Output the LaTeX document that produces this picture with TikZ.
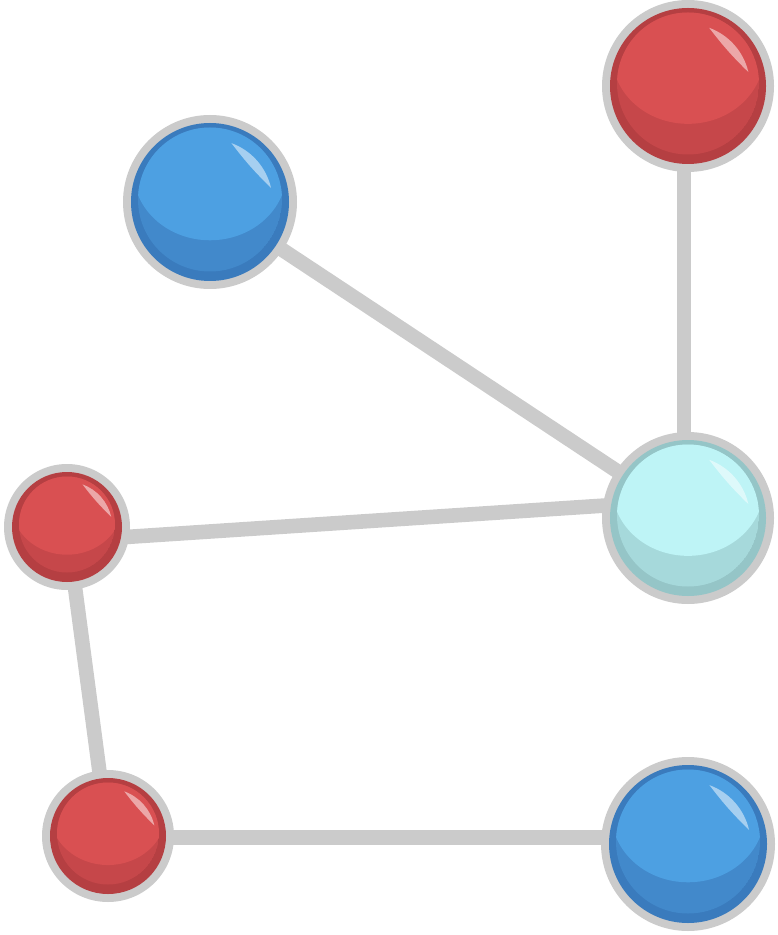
\documentclass[tikz,border=0pt]{standalone}
\usepackage{tikz}

\definecolor{ringgray}{HTML}{CBCBCB}
\definecolor{blueL}{HTML}{4DA0E2}
\definecolor{blueM}{HTML}{4289CB}
\definecolor{blueD}{HTML}{3A7BBD}
\definecolor{redL}{HTML}{D95052}
\definecolor{redM}{HTML}{C6474A}
\definecolor{redD}{HTML}{B53F42}
\definecolor{cyanL}{HTML}{BEF4F6}
\definecolor{cyanM}{HTML}{A6D9DB}
\definecolor{cyanD}{HTML}{95C5C7}

% #1 node name, #2 radius, #3 colour prefix
\newcommand{\drawatom}[3]{%
\begin{scope}[shift={(#1)}]
  \fill[ringgray] (0,0) circle[radius=#2];
  \fill[#3D] (0,0) circle[radius=#2-8];
  \begin{scope}
    \clip (0,-2.5) circle[radius=#2-15];
    \fill[#3M] (0,-2.5) circle[radius=#2-15];
    \fill[#3L] (0,-0.35*#2) ellipse[x radius=0.88*#2, y radius=0.79*#2];
  \end{scope}
  \fill[white,opacity=.5] (-70:0.72*#2) arc[start angle=-70, end angle=-13, radius=0.72*#2]
    to[bend left=4] cycle;
\end{scope}}

\begin{document}
\begin{tikzpicture}[x=0.02cm,y=-0.02cm,
  bond/.style={line width=8.3pt, draw=ringgray}]
\useasboundingbox (0,0) rectangle (777,935);

\coordinate (blueA) at (210,202);
\coordinate (redB)  at (688,86);
\coordinate (cyan)  at (688,518);
\coordinate (redL)  at (67,527);
\coordinate (redC)  at (108,836);
\coordinate (blueD) at (688,844);

\path[bond]
(blueA) edge (cyan)
([xshift=-2.3pt]redB) edge ([xshift=-2.3pt]cyan)
([yshift=-7.9pt]redL) edge ([yshift=10.2pt]cyan)
(redL) edge (redC)
([yshift=-0.8pt]redC) edge ([yshift=-0.8pt]redC -| blueD)
; %end path

\drawatom{blueA}{87}{blue}
\drawatom{redB}{86}{red}
\drawatom{cyan}{86}{cyan}
\drawatom{redL}{63}{red}
\drawatom{redC}{66}{red}
\drawatom{blueD}{87}{blue}
\end{tikzpicture}
\end{document}
